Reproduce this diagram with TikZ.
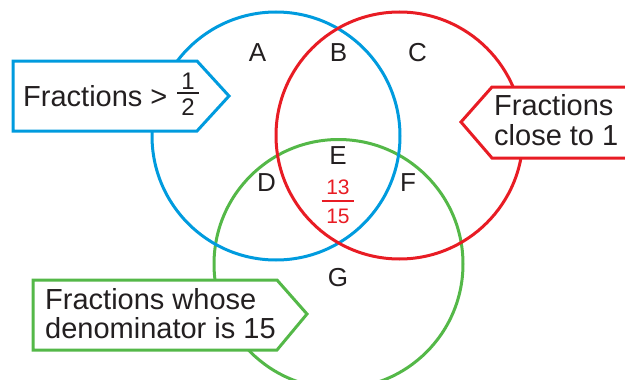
\documentclass[tikz,border=0pt]{standalone}
\usepackage{fontspec}
\setmainfont{Liberation Sans}
\usepackage{xcolor}
\usepackage{tikz}
\usetikzlibrary{positioning}
\definecolor{vblue}{RGB}{0,155,222}
\definecolor{vred}{RGB}{232,28,36}
\definecolor{vgreen}{RGB}{84,184,72}
\definecolor{ink}{RGB}{35,31,32}

\begin{document}
\begin{tikzpicture}[x=1pt, y=-1pt, line join=miter,
  ring/.style={line width=3pt},
  callout/.style={line width=3pt, fill=white},
  region/.style={inner sep=0pt, text=ink, font=\fontsize{26}{28}\selectfont},
  fracdigit/.style={inner sep=0pt, font=\fontsize{#1}{#1}\selectfont},
  calltext/.style={inner sep=0pt, text=ink, anchor=base west, font=\fontsize{29}{30}\selectfont}]
  \useasboundingbox (0,0) rectangle (625,380);
  % the three sets
  \draw[ring, draw=vgreen] (338.5,264) circle (124.5);
  \draw[ring, draw=vblue] (276,136) circle (124);
  \draw[ring, draw=vred] (399.5,135.5) circle (123.5);
  % regions
  \node[region] (A) at (257.5,53) {A};
  \node[region] (B) at (338.5,53) {B};
  \node[region] (C) at (417.5,53) {C};
  \node[region] (E) at (338,156) {E};
  \node[region] (D) at (266.5,183) {D};
  \node[region] (F) at (408,183) {F};
  \node[region] (G) at (338,278) {G};
  \node[fracdigit=21, text=vred] (valnum) at (338,187) {13};
  \node[fracdigit=21, text=vred] (valden) at (338,216) {15};
  \draw[vred, line width=2pt] ([xshift=-4.5pt]valnum.west |- 0,201) -- ([xshift=4.5pt]valnum.east |- 0,201);
  % callouts
  \draw[callout, draw=vblue] (13,61) -- (197,61) -- (229,96) -- (197,131) -- (13,131) -- cycle;
  \node[calltext] (bluetxt) at (23,106) {Fractions >};
  \node[fracdigit=24, text=ink] (halfnum) at (188,81) {1};
  \node[fracdigit=24, text=ink] (halfden) at (188,107) {2};
  \draw[ink, line width=2pt] (177,93) -- (199,93);
  \draw[callout, draw=vred] (640,87) -- (492,87) -- (461,122) -- (492,158) -- (640,158);
  \node[calltext] (redtxt) at (494,115) {Fractions};
  \node[calltext] (redtxt2) at (494,145) {close to 1};
  \draw[callout, draw=vgreen] (33,280) -- (277,280) -- (307,314) -- (277,350) -- (33,350) -- cycle;
  \node[calltext] (greentxt) at (45,309) {Fractions whose};
  \node[calltext] (greentxt2) at (45,338) {denominator is 15};
\end{tikzpicture}
\end{document}
